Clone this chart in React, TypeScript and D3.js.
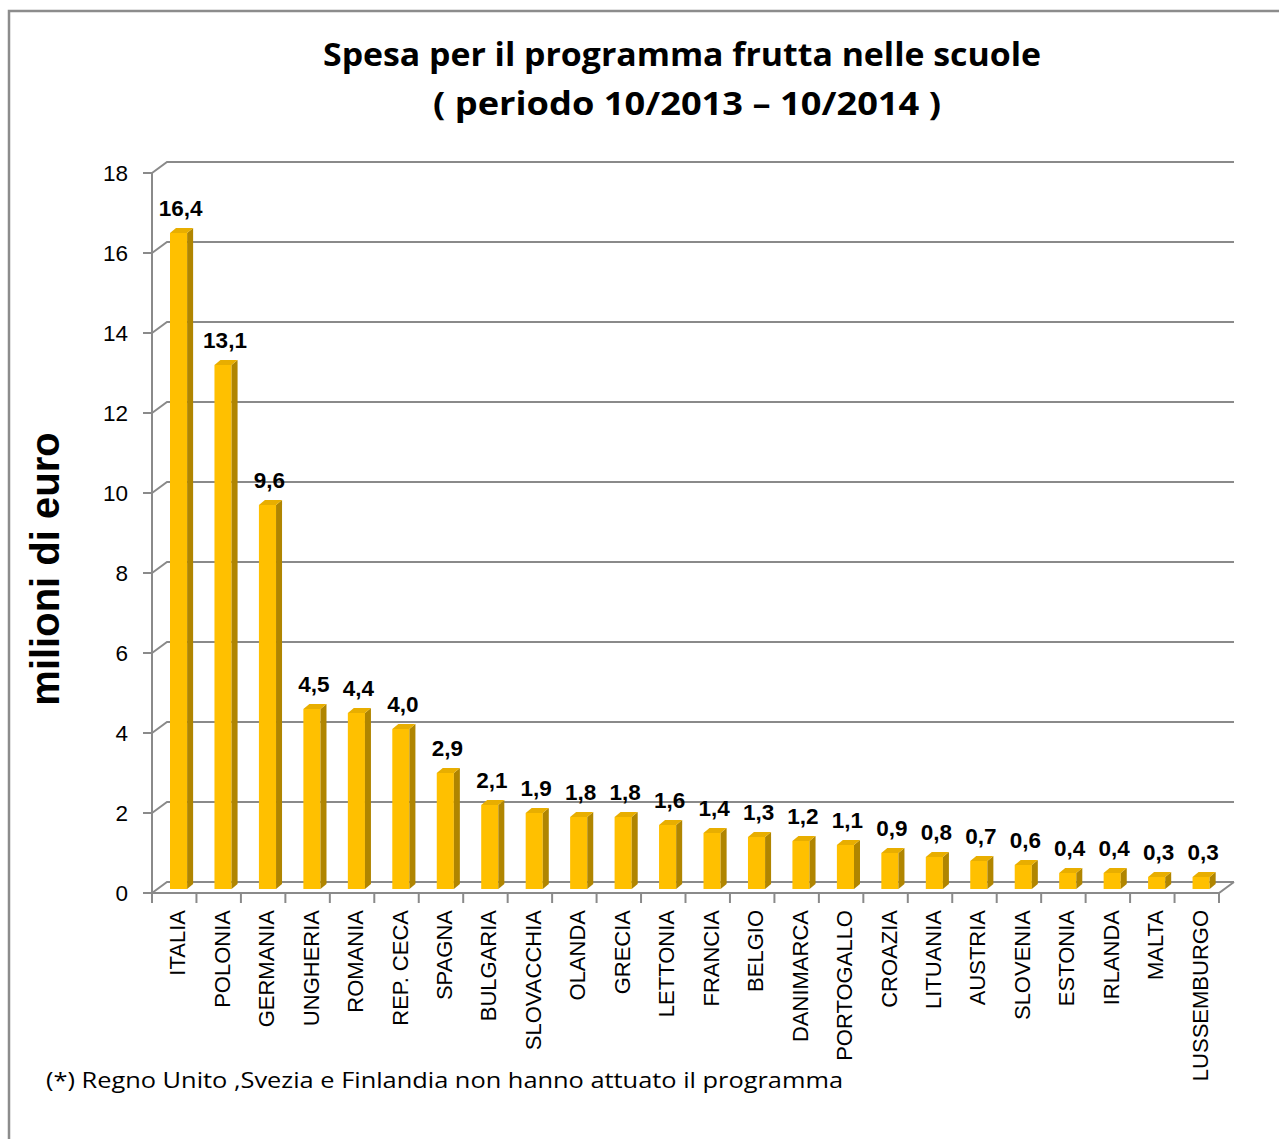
import React from "react";
import * as d3 from "d3";

const categories = ["ITALIA","POLONIA","GERMANIA","UNGHERIA","ROMANIA","REP. CECA","SPAGNA","BULGARIA","SLOVACCHIA","OLANDA","GRECIA","LETTONIA","FRANCIA","BELGIO","DANIMARCA","PORTOGALLO","CROAZIA","LITUANIA","AUSTRIA","SLOVENIA","ESTONIA","IRLANDA","MALTA","LUSSEMBURGO"];
const values = [16.4,13.1,9.6,4.5,4.4,4.0,2.9,2.1,1.9,1.8,1.8,1.6,1.4,1.3,1.2,1.1,0.9,0.8,0.7,0.6,0.4,0.4,0.3,0.3];
const yTicks = [0,2,4,6,8,10,12,14,16,18];
const titleLines = ["Spesa per il programma frutta nelle scuole", "( periodo 10/2013 – 10/2014 )"];
const yAxisTitle = "milioni di euro";
const footnote = "(*) Regno Unito ,Svezia  e Finlandia non hanno attuato il programma";

const W = 1279, H = 1139;
const X0 = 152, X1 = 1219;
const Y0 = 893, YTOP = 173;
const DX = 15, DY = 11; // floor depth
const BDX = 6, BDY = 5; // bar depth
const GRID = "#8a8a8a";

export default function App() {
  const x = d3.scaleBand<string>().domain(categories).range([X0, X1]).padding(0);
  const yAxis = d3.scaleLinear().domain([0, 18]).range([Y0, YTOP]);
  const yBar = d3.scaleLinear().domain([0, 18]).range([Y0 - 4, YTOP - 4]);
  const bw = x.bandwidth();
  const fmt = (v: number) => v.toFixed(1).replace(".", ",");

  return (
    <svg width={W} height={H} style={{ display: "block", position: "absolute", left: 0, top: 0 }}>
      <rect x={0} y={0} width={W} height={H} fill="#fff" />
      {/* frame */}
      <path d={`M9,${H} L9,11 L${W},11`} fill="none" stroke="#8c8c8c" strokeWidth={2.5} />

      {/* title */}
      <text x={682} y={66} textAnchor="middle" fontFamily="'Open Sans', sans-serif" fontWeight={700} fontSize={33} textLength={718} lengthAdjust="spacingAndGlyphs" fill="#000">{titleLines[0]}</text>
      <text x={687} y={115} textAnchor="middle" fontFamily="'Open Sans', sans-serif" fontWeight={700} fontSize={33} textLength={508} lengthAdjust="spacingAndGlyphs" fill="#000">{titleLines[1]}</text>

      {/* gridlines: back wall + left wall diagonals */}
      {yTicks.map((t) => {
        const yy = yAxis(t);
        return (
          <g key={t}>
            <path d={`M${X0},${yy} L${X0 + DX},${yy - DY} L${X1 + DX},${yy - DY}`} fill="none" stroke={GRID} strokeWidth={2} />
            <line x1={X0 - 9} x2={X0} y1={yy} y2={yy} stroke={GRID} strokeWidth={2} />
            <text x={128} y={yy + 8} textAnchor="end" fontFamily="'Liberation Sans', Arial, sans-serif" fontSize={22.5} fill="#000">{t}</text>
          </g>
        );
      })}
      {/* vertical axis */}
      <line x1={X0} x2={X0} y1={YTOP} y2={Y0} stroke={GRID} strokeWidth={2} />
      {/* front floor edge */}
      <path d={`M${X0 - 9},${Y0} L${X1},${Y0} L${X1 + DX},${Y0 - DY}`} fill="none" stroke={GRID} strokeWidth={2} />
      {/* category ticks */}
      {categories.map((c, i) => (
        <line key={c} x1={X0 + i * bw} x2={X0 + i * bw} y1={Y0} y2={Y0 + 10} stroke={GRID} strokeWidth={2} />
      ))}
      <line x1={X1} x2={X1} y1={Y0} y2={Y0 + 10} stroke={GRID} strokeWidth={2} />

      {/* bars */}
      {categories.map((c, i) => {
        const v = values[i];
        const bx0 = (x(c) as number) + bw * 0.405;
        const bx1 = bx0 + bw * 0.385;
        const yt = yBar(v);
        const yb = yBar(0);
        return (
          <g key={c}>
            <rect x={bx0} y={yt} width={bx1 - bx0} height={yb - yt} fill="#FFC000" />
            <path d={`M${bx1},${yt} L${bx1 + BDX},${yt - BDY} L${bx1 + BDX},${yb - BDY} L${bx1},${yb} Z`} fill="#B08500" />
            <path d={`M${bx0},${yt} L${bx1},${yt} L${bx1 + BDX},${yt - BDY} L${bx0 + BDX},${yt - BDY} Z`} fill="#E8AE00" />
            <text x={(bx0 + bx1 + BDX) / 2 - 1} y={yt - 17} textAnchor="middle" fontFamily="'Liberation Sans', Arial, sans-serif" fontWeight={700} fontSize={22.5} fill="#000">{fmt(v)}</text>
          </g>
        );
      })}

      {/* category labels */}
      {categories.map((c) => {
        const cx = (x(c) as number) + bw / 2 + 11;
        return (
          <text key={c} transform={`translate(${cx},910) rotate(-90)`} textAnchor="end" fontFamily="'Liberation Sans', Arial, sans-serif" fontSize={22} fill="#000">{c}</text>
        );
      })}

      {/* y axis title */}
      <text transform={`translate(59,569) rotate(-90)`} textAnchor="middle" fontFamily="'Liberation Sans', Arial, sans-serif" fontWeight={700} fontSize={40} fill="#000">{yAxisTitle}</text>

      {/* footnote */}
      <text x={46} y={1088} fontFamily="'Open Sans', sans-serif" fontSize={22} textLength={797} lengthAdjust="spacingAndGlyphs" fill="#000">{footnote}</text>
    </svg>
  );
}
